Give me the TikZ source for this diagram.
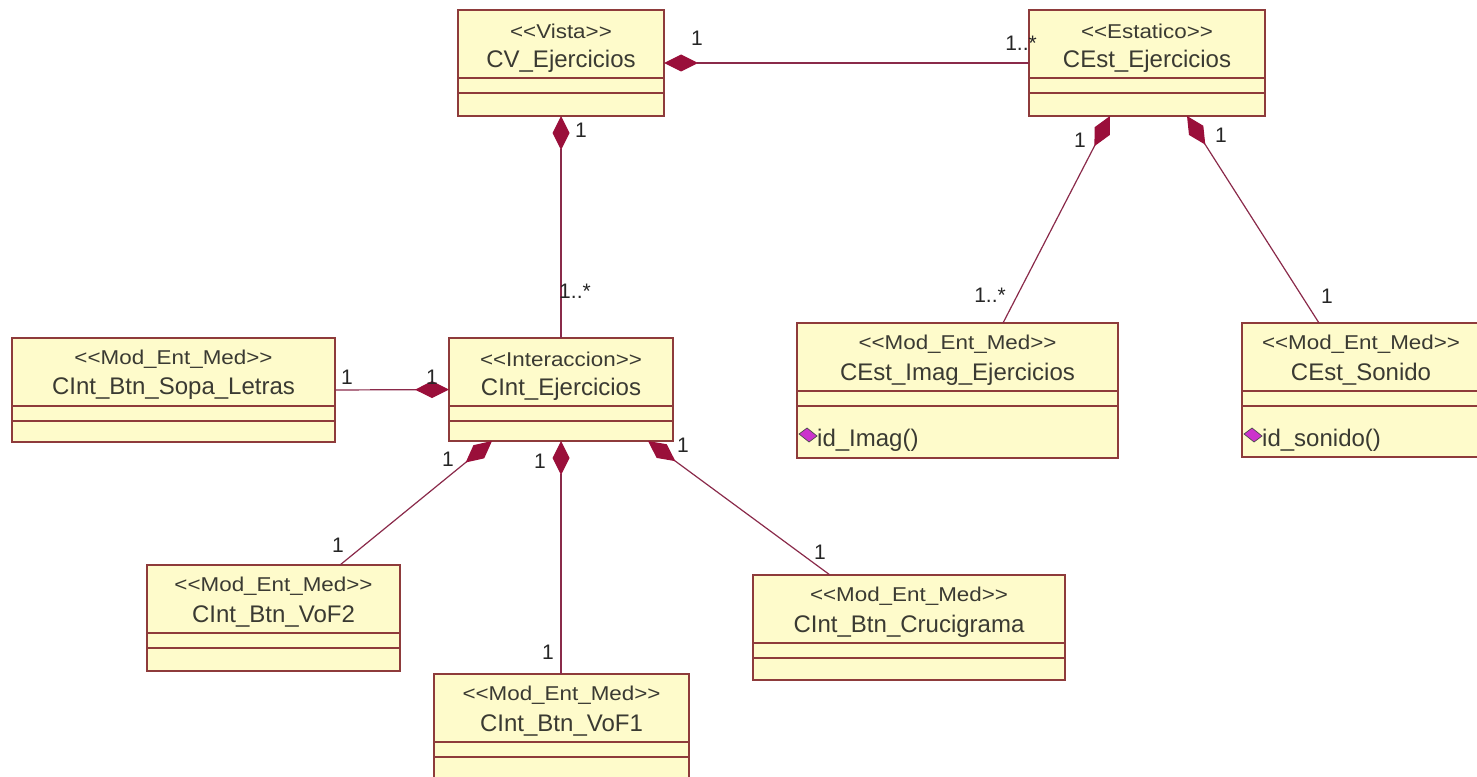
\documentclass[tikz,border=0pt]{standalone}
\usepackage{fontspec}
\setmainfont[Ligatures=TeXOff]{Liberation Sans}
\newfontfamily\stereofont[Ligatures=TeXOff,FakeStretch=1.12]{Liberation Sans}
\usetikzlibrary{arrows.meta,calc}

\definecolor{classfill}{HTML}{FEFBCB}
\definecolor{classline}{HTML}{8E3B3B}
\definecolor{assoc}{HTML}{8A2A4A}
\definecolor{diamondfill}{HTML}{9A0F3A}
\definecolor{txt}{HTML}{3A3A32}
\definecolor{opicon}{HTML}{CC33CC}

\tikzset{
  classbox/.style={draw=classline, fill=classfill, line width=1.3pt, anchor=north west,
                   inner sep=0pt, outer sep=0pt},
  sepline/.style={draw=classline, line width=1.3pt},
  stereo/.style={text=txt, font=\stereofont\fontsize{20}{24}\selectfont, inner sep=0pt},
  cname/.style={text=txt, font=\fontsize{24}{28}\selectfont, inner sep=0pt},
  opname/.style={text=txt, font=\fontsize{24}{28}\selectfont, inner sep=0pt, anchor=west},
  mult/.style={text=black!85, font=\fontsize{21}{24}\selectfont, inner sep=0pt},
  comp/.style={draw=assoc, line width=1.2pt,
               {Diamond[length=34pt,width=17pt,fill=diamondfill,color=diamondfill]}-},
}

% class box: name, left x, top y, width, height, stereotype, class name
\newcommand{\umlclass}[7]{%
  \node[classbox, minimum width=#4pt, minimum height=#5pt] (#1) at (#2,#3) {};
  \node[stereo] (#1-st) at ($(#1.north)+(0,21)$) {#6};
  \node[cname] (#1-nm) at ($(#1.north)+(0,51)$) {#7};
  \draw[sepline] ($(#1.north west)+(0,68)$) -- ($(#1.north east)+(0,68)$);
  \draw[sepline] ($(#1.north west)+(0,83)$) -- ($(#1.north east)+(0,83)$);
}
% operation line inside a class: class name, operation text
\newcommand{\umlop}[2]{%
  \coordinate (#1-op) at ($(#1.north west)+(11,112)$);
  \fill[opicon, draw=black!70, line width=0.7pt]
    ($(#1-op)+(-9,-1)$) -- ($(#1-op)+(-1,-7)$) -- ($(#1-op)+(9,1)$) -- ($(#1-op)+(1,7)$) -- cycle;
  \node[opname] (#1-opn) at ($(#1-op)+(9,5)$) {#2};
}

\begin{document}
\begin{tikzpicture}[x=1pt,y=-1pt]
  \useasboundingbox (0,0) rectangle (1477,776);
  \fill[white] (0,0) rectangle (1477,776);

  % classes
  \umlclass{cv}{458}{10}{206}{106}{<<Vista>>}{CV\_Ejercicios}
  \umlclass{cest}{1029}{10}{236}{106}{<<Estatico>>}{CEst\_Ejercicios}
  \umlclass{sopa}{12}{338}{323}{104}{<<Mod\_Ent\_Med>>}{CInt\_Btn\_Sopa\_Letras}
  \umlclass{cint}{449}{338}{224}{103}{<<Interaccion>>}{CInt\_Ejercicios}
  \umlclass{cimag}{797}{323}{321}{135}{<<Mod\_Ent\_Med>>}{CEst\_Imag\_Ejercicios}
  \umlop{cimag}{id\_Imag()}
  \umlclass{csonido}{1242}{323}{238}{134}{<<Mod\_Ent\_Med>>}{CEst\_Sonido}
  \umlop{csonido}{id\_sonido()}
  \umlclass{vof2}{147}{565}{253}{106}{<<Mod\_Ent\_Med>>}{CInt\_Btn\_VoF2}
  \umlclass{vof1}{434}{674}{255}{106}{<<Mod\_Ent\_Med>>}{CInt\_Btn\_VoF1}
  \umlclass{cruci}{753}{575}{312}{105}{<<Mod\_Ent\_Med>>}{CInt\_Btn\_Crucigrama}

  % compositions (diamond at the whole)
  \draw[comp] (cv.east) -- (cest.west);
  \draw[comp] (cv.south) -- (cint.north);
  \draw[comp] ($(cest.south west)+(81,0)$) -- ($(cimag.north west)+(206,0)$);
  \draw[comp] ($(cest.south west)+(158,0)$) -- ($(csonido.north west)+(77,0)$);
  \draw[comp] (cint.west) -- (sopa.east);
  \draw[comp] ($(cint.south west)+(43,0)$) -- ($(vof2.north west)+(193,0)$);
  \draw[comp] (cint.south) -- (cint.south |- vof1.north);
  \draw[comp] ($(cint.south west)+(199,0)$) -- ($(cruci.north west)+(77,0)$);

  % multiplicities
  \node[mult] (m1) at (697,38) {1};
  \node[mult] (m2) at (1021,43) {1..*};
  \node[mult] (m3) at (581,130) {1};
  \node[mult] (m4) at (575,291) {1..*};
  \node[mult] (m5) at (1080,140) {1};
  \node[mult] (m6) at (990,295) {1..*};
  \node[mult] (m7) at (1221,135) {1};
  \node[mult] (m8) at (1327,296) {1};
  \node[mult] (m9) at (347,377) {1};
  \node[mult] (m10) at (432,377) {1};
  \node[mult] (m11) at (448,459) {1};
  \node[mult] (m12) at (338,545) {1};
  \node[mult] (m13) at (540,461) {1};
  \node[mult] (m14) at (548,652) {1};
  \node[mult] (m15) at (683,445) {1};
  \node[mult] (m16) at (820,552) {1};
\end{tikzpicture}
\end{document}
